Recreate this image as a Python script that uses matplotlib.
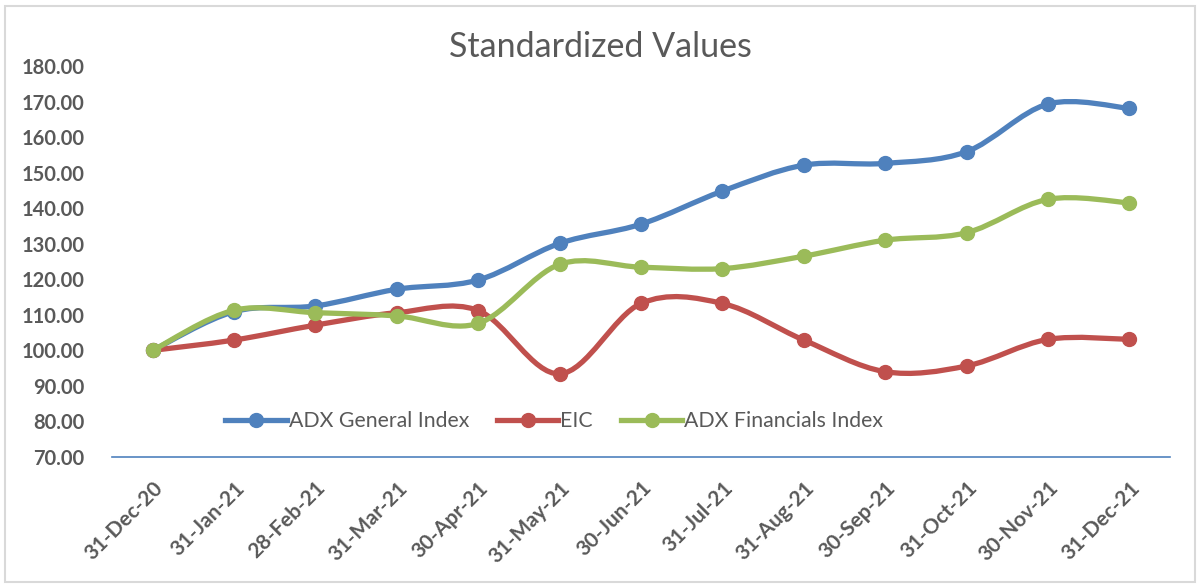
import numpy as np
import matplotlib
matplotlib.use('Agg')
import matplotlib.pyplot as plt
from matplotlib.path import Path
from matplotlib.patches import PathPatch, Rectangle
from matplotlib.lines import Line2D

# Data
dates = ['31-Dec-20', '31-Jan-21', '28-Feb-21', '31-Mar-21', '30-Apr-21',
         '31-May-21', '30-Jun-21', '31-Jul-21', '31-Aug-21', '30-Sep-21',
         '31-Oct-21', '30-Nov-21', '31-Dec-21']
adx_general = [100.0, 110.9, 112.5, 117.2, 119.8, 130.1, 135.5, 144.8,
               152.1, 152.6, 155.9, 169.3, 168.1]
eic = [100.0, 102.9, 107.1, 110.6, 111.2, 93.4, 113.2, 113.2,
       102.9, 94.0, 95.6, 103.1, 103.1]
adx_financials = [100.0, 111.3, 110.6, 109.7, 107.6, 124.2, 123.4, 123.0,
                  126.5, 131.0, 133.1, 142.5, 141.5]
y_ticks = [70, 80, 90, 100, 110, 120, 130, 140, 150, 160, 170, 180]

series = [
    ('ADX General Index', adx_general, '#4F81BD'),
    ('EIC', eic, '#C0504D'),
    ('ADX Financials Index', adx_financials, '#9BBB59'),
]

grey = '#595959'
lw = 3.8
ms = 10


def smooth_path(xs, ys):
    # Excel style smoothed line: Catmull-Rom control points, cubic Bezier
    p = np.column_stack([xs, ys]).astype(float)
    n = len(p)
    verts = [p[0]]
    codes = [Path.MOVETO]
    for i in range(n - 1):
        p0 = p[i - 1] if i > 0 else p[i]
        p1 = p[i]
        p2 = p[i + 1]
        p3 = p[i + 2] if i + 2 < n else p[i + 1]
        c1 = p1 + (p2 - p0) / 6.0
        c2 = p2 - (p3 - p1) / 6.0
        verts += [c1, c2, p2]
        codes += [Path.CURVE4] * 3
    return Path(verts, codes)


fig = plt.figure(figsize=(12.01, 5.84), dpi=100)
ax = fig.add_axes([112 / 1201, 1 - 457 / 584, (1170 - 112) / 1201,
                   (457 - 66) / 584])

x = np.arange(len(dates))
handles = []
for name, vals, color in series:
    patch = PathPatch(smooth_path(x, vals), facecolor='none',
                      edgecolor=color, lw=lw, capstyle='round',
                      joinstyle='round')
    ax.add_patch(patch)
    ax.plot(x, vals, 'o', color=color, ms=ms, zorder=patch.get_zorder())
    handles.append(Line2D([], [], color=color, lw=lw, marker='o', ms=ms))

ax.set_xlim(-0.5, len(dates) - 0.5)
ax.set_ylim(70, 180)
ax.set_yticks(y_ticks)
ax.set_yticklabels(['%.2f' % v for v in y_ticks])
ax.set_xticks(x)
ax.set_xticklabels(dates, rotation=45, ha='right', rotation_mode='anchor')

for s in ['top', 'right', 'left']:
    ax.spines[s].set_visible(False)
ax.spines['bottom'].set_color('#4F81BD')
ax.spines['bottom'].set_linewidth(1.2)
ax.tick_params(axis='both', length=0, colors=grey)
ax.tick_params(axis='y', pad=20, labelsize=14.5)
ax.tick_params(axis='x', pad=15, labelsize=15)
for lab in ax.get_xticklabels() + ax.get_yticklabels():
    lab.set_fontfamily('Lato')
    lab.set_fontweight('bold')

leg = ax.legend(handles, [s[0] for s in series], loc='center',
                bbox_to_anchor=(0.418, 0.092), ncol=3, frameon=False,
                handlelength=2.9, handletextpad=0.1, columnspacing=1.3,
                prop={'family': 'Lato', 'size': 15.3})
for t in leg.get_texts():
    t.set_color(grey)

fig.text(600 / 1201, 1 - 47 / 584, 'Standardized Values', ha='center',
         va='center', fontsize=24.5, color=grey, family='Lato')

fig.patches.append(Rectangle((5 / 1201, 2 / 584), 1190 / 1201, 576 / 584,
                             transform=fig.transFigure, fill=False,
                             edgecolor='#D9D9D9', lw=1.5))

fig.savefig('out.png', dpi=100)
